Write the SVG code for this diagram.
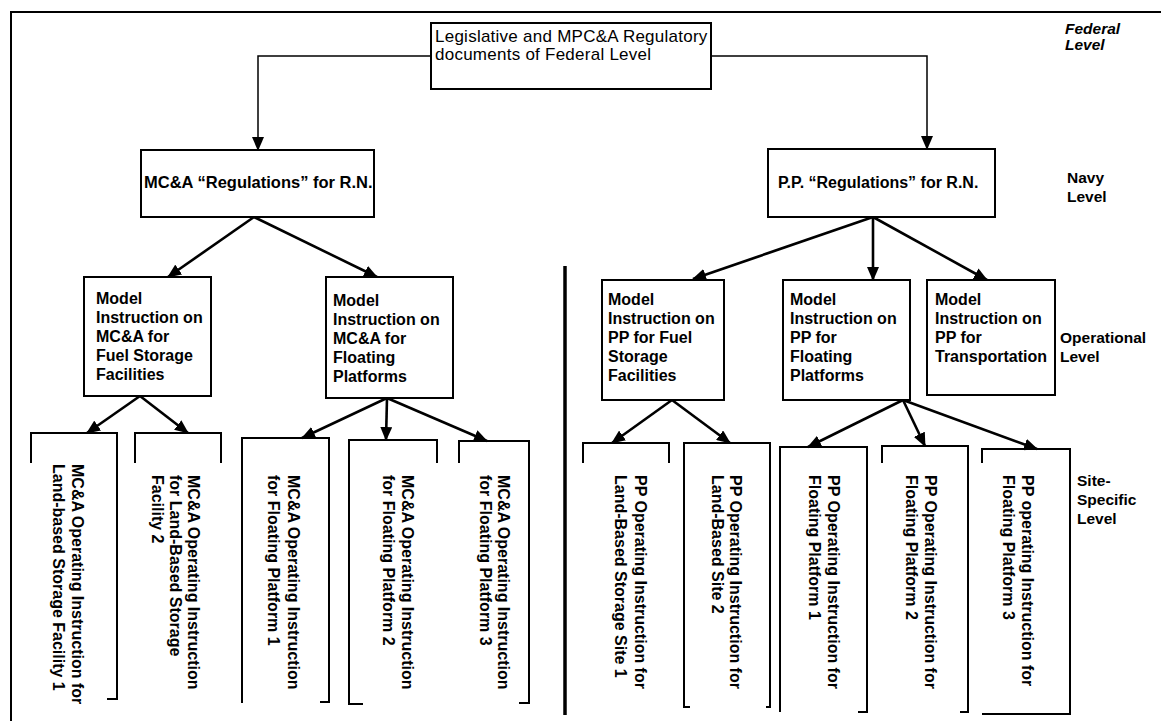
<svg xmlns="http://www.w3.org/2000/svg" width="1161" height="721" viewBox="0 0 1161 721">
<defs>
<marker id="ah" markerUnits="userSpaceOnUse" markerWidth="14" markerHeight="12" refX="13" refY="6" orient="auto" viewBox="0 0 14 12">
<path d="M0,0 L14,6 L0,12 z" fill="#000"/>
</marker>
</defs>
<style>
.box{fill:#fff;stroke:#000;stroke-width:2}
.ln{fill:none;stroke:#000;stroke-width:2}
.t{font-family:"Liberation Sans",Arial,sans-serif;font-size:16px;font-weight:bold;fill:#000}
.n{font-family:"Liberation Sans",Arial,sans-serif;font-size:17px;letter-spacing:0.25px;fill:#000}
.lv{font-family:"Liberation Sans",Arial,sans-serif;font-size:15.5px;font-weight:bold;fill:#000}
.c1{fill:none;stroke:#000;stroke-width:1.5}
.c2{fill:none;stroke:#000;stroke-width:2.6}
</style>
<rect width="1161" height="721" fill="#fff"/>
<path id="frame" class="ln" d="M11,721 V12 H1161"/>
<line id="divider" x1="565" y1="266" x2="565" y2="715" stroke="#000" stroke-width="3.5"/>

<g id="connectors">
<path class="c1" d="M431,56 H258 V150" marker-end="url(#ah)"/>
<path class="c1" d="M711,56 H927 V149" marker-end="url(#ah)"/>
<line class="c2" x1="254" y1="217" x2="168" y2="277" marker-end="url(#ah)"/>
<line class="c2" x1="254" y1="217" x2="377" y2="277" marker-end="url(#ah)"/>
<line class="c2" x1="873" y1="217" x2="693" y2="279" marker-end="url(#ah)"/>
<line class="c2" x1="873" y1="217" x2="873" y2="280" marker-end="url(#ah)"/>
<line class="c2" x1="873" y1="217" x2="987" y2="280" marker-end="url(#ah)"/>
<line class="c2" x1="140" y1="396" x2="87" y2="433" marker-end="url(#ah)"/>
<line class="c2" x1="140" y1="396" x2="188" y2="433" marker-end="url(#ah)"/>
<line class="c2" x1="387" y1="398" x2="302" y2="438" marker-end="url(#ah)"/>
<line class="c2" x1="387" y1="398" x2="386" y2="440" marker-end="url(#ah)"/>
<line class="c2" x1="387" y1="398" x2="487" y2="441" marker-end="url(#ah)"/>
<line class="c2" x1="672" y1="400" x2="612" y2="443" marker-end="url(#ah)"/>
<line class="c2" x1="672" y1="400" x2="730" y2="443" marker-end="url(#ah)"/>
<line class="c2" x1="903" y1="400" x2="808" y2="447" marker-end="url(#ah)"/>
<line class="c2" x1="903" y1="400" x2="925" y2="446" marker-end="url(#ah)"/>
<line class="c2" x1="903" y1="400" x2="1037" y2="449" marker-end="url(#ah)"/>
</g>

<g id="federal">
<rect class="box" x="431" y="23" width="280" height="66"/>
<text class="n" x="435" y="42">Legislative and MPC&amp;A Regulatory</text>
<text class="n" x="435" y="60">documents of Federal Level</text>
</g>

<g id="mca-reg">
<rect class="box" x="141" y="150" width="233" height="67"/>
<text class="t" x="144" y="188" style="font-size:16.5px">MC&amp;A “Regulations” for R.N.</text>
</g>
<g id="pp-reg">
<rect class="box" x="768" y="149" width="227" height="68"/>
<text class="t" x="778" y="188">P.P. “Regulations” for R.N.</text>
</g>

<g id="mi-mca-fuel">
<rect class="box" x="84" y="277" width="127" height="119"/>
<text class="t"><tspan x="96" y="304">Model</tspan><tspan x="96" y="323">Instruction on</tspan><tspan x="96" y="342">MC&amp;A for</tspan><tspan x="96" y="361">Fuel Storage</tspan><tspan x="96" y="380">Facilities</tspan></text>
</g>
<g id="mi-mca-float">
<rect class="box" x="326" y="277" width="127" height="121"/>
<text class="t"><tspan x="333" y="306">Model</tspan><tspan x="333" y="325">Instruction on</tspan><tspan x="333" y="344">MC&amp;A for</tspan><tspan x="333" y="363">Floating</tspan><tspan x="333" y="382">Platforms</tspan></text>
</g>
<g id="mi-pp-fuel">
<rect class="box" x="602" y="280" width="122" height="120"/>
<text class="t"><tspan x="608" y="305">Model</tspan><tspan x="608" y="324">Instruction on</tspan><tspan x="608" y="343">PP for Fuel</tspan><tspan x="608" y="362">Storage</tspan><tspan x="608" y="381">Facilities</tspan></text>
</g>
<g id="mi-pp-float">
<rect class="box" x="783" y="280" width="127" height="120"/>
<text class="t"><tspan x="790" y="305">Model</tspan><tspan x="790" y="324">Instruction on</tspan><tspan x="790" y="343">PP for</tspan><tspan x="790" y="362">Floating</tspan><tspan x="790" y="381">Platforms</tspan></text>
</g>
<g id="mi-pp-transport">
<rect class="box" x="927" y="280" width="128" height="115"/>
<text class="t"><tspan x="935" y="305">Model</tspan><tspan x="935" y="324">Instruction on</tspan><tspan x="935" y="343">PP for</tspan><tspan x="935" y="362">Transportation</tspan></text>
</g>

<g id="oi-mca-land1">
<path class="ln" d="M31,463 V433 H117 V699 H107"/>
<text class="t" transform="translate(72,464) rotate(90)"><tspan x="0" y="0">MC&amp;A Operating Instruction for</tspan><tspan x="0" y="19">Land-based Storage Facility 1</tspan></text>
</g>
<g id="oi-mca-land2">
<path class="ln" d="M135,463 V433 H221 V463"/>
<text class="t" transform="translate(188,475) rotate(90)"><tspan x="0" y="0">MC&amp;A Operating Instruction</tspan><tspan x="0" y="18">for Land-Based Storage</tspan><tspan x="0" y="36">Facility 2</tspan></text>
</g>
<g id="oi-mca-fp1">
<path class="ln" d="M242,703 V438 H329 V702 H320"/>
<text class="t" transform="translate(288,475) rotate(90)"><tspan x="0" y="0">MC&amp;A Operating Instruction</tspan><tspan x="0" y="20">for Floating Platform 1</tspan></text>
</g>
<g id="oi-mca-fp2">
<path class="ln" d="M363,704 H349 V440 H437 V463"/>
<text class="t" transform="translate(402,475) rotate(90)"><tspan x="0" y="0">MC&amp;A Operating Instruction</tspan><tspan x="0" y="19">for Floating Platform 2</tspan></text>
</g>
<g id="oi-mca-fp3">
<path class="ln" d="M459,463 V441 H529 V703 H519"/>
<text class="t" transform="translate(498,475) rotate(90)"><tspan x="0" y="0">MC&amp;A Operating Instruction</tspan><tspan x="0" y="18">for Floating Platform 3</tspan></text>
</g>
<g id="oi-pp-land1">
<path class="ln" d="M583,463 V443 H669 V463"/>
<text class="t" transform="translate(635,475) rotate(90)"><tspan x="0" y="0">PP Operating Instruction for</tspan><tspan x="0" y="20">Land-Based Storage Site 1</tspan></text>
</g>
<g id="oi-pp-land2">
<path class="ln" d="M690,707 H684 V443 H770 V707 H766"/>
<text class="t" transform="translate(730,475) rotate(90)"><tspan x="0" y="0">PP Operating Instruction for</tspan><tspan x="0" y="18">Land-Based Site 2</tspan></text>
</g>
<g id="oi-pp-fp1">
<path class="ln" d="M780,712 V447 H867 V712 H858"/>
<text class="t" transform="translate(828,475) rotate(90)"><tspan x="0" y="0">PP Operating Instruction for</tspan><tspan x="0" y="19">Floating Platform 1</tspan></text>
</g>
<g id="oi-pp-fp2">
<path class="ln" d="M882,463 V446 H968 V712 H960"/>
<text class="t" transform="translate(925,475) rotate(90)"><tspan x="0" y="0">PP Operating Instruction for</tspan><tspan x="0" y="19">Floating Platform 2</tspan></text>
</g>
<g id="oi-pp-fp3">
<path class="ln" d="M982,463 V449 H1070 V714 H982"/>
<text class="t" transform="translate(1022,475) rotate(90)"><tspan x="0" y="0">PP operating Instruction for</tspan><tspan x="0" y="19">Floating Platform 3</tspan></text>
</g>

<g id="levels">
<text class="lv" style="font-style:italic"><tspan x="1065" y="34">Federal</tspan><tspan x="1065" y="50">Level</tspan></text>
<text class="lv"><tspan x="1067" y="183">Navy</tspan><tspan x="1067" y="202">Level</tspan></text>
<text class="lv"><tspan x="1060" y="343">Operational</tspan><tspan x="1060" y="362">Level</tspan></text>
<text class="lv"><tspan x="1077" y="486">Site-</tspan><tspan x="1077" y="505">Specific</tspan><tspan x="1077" y="524">Level</tspan></text>
</g>
</svg>
